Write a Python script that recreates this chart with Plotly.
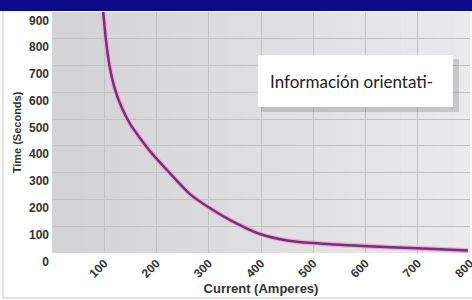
import plotly.graph_objects as go

# Data
current_amps = [98, 103, 110, 120, 133, 150, 170, 190, 220, 264, 302, 341, 398, 450, 500, 595, 699, 796]
time_seconds = [900, 800, 700, 615, 545, 480, 425, 375, 310, 220, 168, 123, 71, 47, 37, 26, 18, 9]
x_ticks = [100, 200, 300, 400, 500, 600, 700, 800]
y_ticks = [0, 100, 200, 300, 400, 500, 600, 700, 800, 900]
note_text = "Información orientati-"

fig = go.Figure()

# pink halo + purple line
fig.add_trace(go.Scatter(x=current_amps, y=time_seconds, mode="lines",
                         line=dict(color="#f2a9e2", width=5, shape="spline", smoothing=0.6),
                         hoverinfo="skip", showlegend=False))
fig.add_trace(go.Scatter(x=current_amps, y=time_seconds, mode="lines",
                         line=dict(color="#74356f", width=2.5, shape="spline", smoothing=0.6),
                         showlegend=False))

W, H = 472, 300
L, R, T, B = 52, 2, 12, 47
pw, ph = W - L - R, H - T - B


def px(x):
    return (x - L) / pw


def py(y):
    return (H - B - y) / ph


shapes = []
# background gradient strips in plot area
n = 24
for i in range(n):
    t = i / (n - 1)
    c = int(0xd4 + (0xea - 0xd4) * t)
    col = f"rgb({c},{c},{min(255, c + 3)})"
    shapes.append(dict(type="rect", xref="paper", yref="paper", x0=i / n, x1=(i + 1) / n,
                       y0=0, y1=1, fillcolor=col, line=dict(width=0), layer="below"))
# top blue band
shapes.append(dict(type="rect", xref="paper", yref="paper", x0=px(-5), x1=px(W + 5), y0=py(11), y1=py(-5),
                   fillcolor="#0b0b8c", line=dict(width=0)))
# outer frame lines
shapes.append(dict(type="line", xref="paper", yref="paper", x0=px(3), x1=px(3), y0=py(298), y1=py(11),
                   line=dict(color="#c8c8c8", width=1)))
shapes.append(dict(type="line", xref="paper", yref="paper", x0=px(3), x1=px(W), y0=py(298), y1=py(298),
                   line=dict(color="#c8c8c8", width=1)))
# note box shadow and box
shapes.append(dict(type="rect", xref="paper", yref="paper", x0=px(261), x1=px(459), y0=py(112), y1=py(59),
                   fillcolor="rgba(110,110,110,0.28)", line=dict(width=0)))
shapes.append(dict(type="rect", xref="paper", yref="paper", x0=px(258), x1=px(453), y0=py(107), y1=py(55),
                   fillcolor="#ffffff", line=dict(width=0)))

tickfont = dict(size=12, family="Liberation Sans, Arial", weight="bold", color="#333333")

fig.update_layout(
    width=W, height=H,
    margin=dict(l=L, r=R, t=T, b=B),
    paper_bgcolor="#ffffff",
    plot_bgcolor="#dcdcdc",
    shapes=shapes,
    font=dict(family="Liberation Sans, Arial", color="#333333"),
    xaxis=dict(range=[0, 800], tickvals=x_ticks, ticktext=[str(v) for v in x_ticks],
               tickangle=-45, showgrid=True, gridcolor="#c2c2c2", gridwidth=1,
               zeroline=False, showline=False, ticks="", automargin=False,
               ticklabeloverflow="allow",
               tickfont=tickfont,
               title=dict(text="<b>Current (Amperes)</b>", font=dict(size=13, color="#333333"), standoff=2)),
    yaxis=dict(range=[0, 900], tickvals=y_ticks, showgrid=True, gridcolor="#c2c2c2", gridwidth=1,
               zeroline=False, showline=False, ticks="", ticklabelstandoff=2,
               ticklabelposition="outside bottom", automargin=False,
               tickfont=tickfont,
               title=dict(text="<b>Time (Seconds)</b>", font=dict(size=11, color="#333333"), standoff=5)),
    annotations=[dict(text=note_text, xref="paper", yref="paper", x=px(268), y=py(81),
                      xanchor="left", yanchor="middle", showarrow=False,
                      font=dict(family="Lato", size=17, color="#222222"))],
)

fig.write_html("out.html", config={"displayModeBar": False},
               post_script="document.body.style.margin='0';document.body.style.overflow='hidden';")
